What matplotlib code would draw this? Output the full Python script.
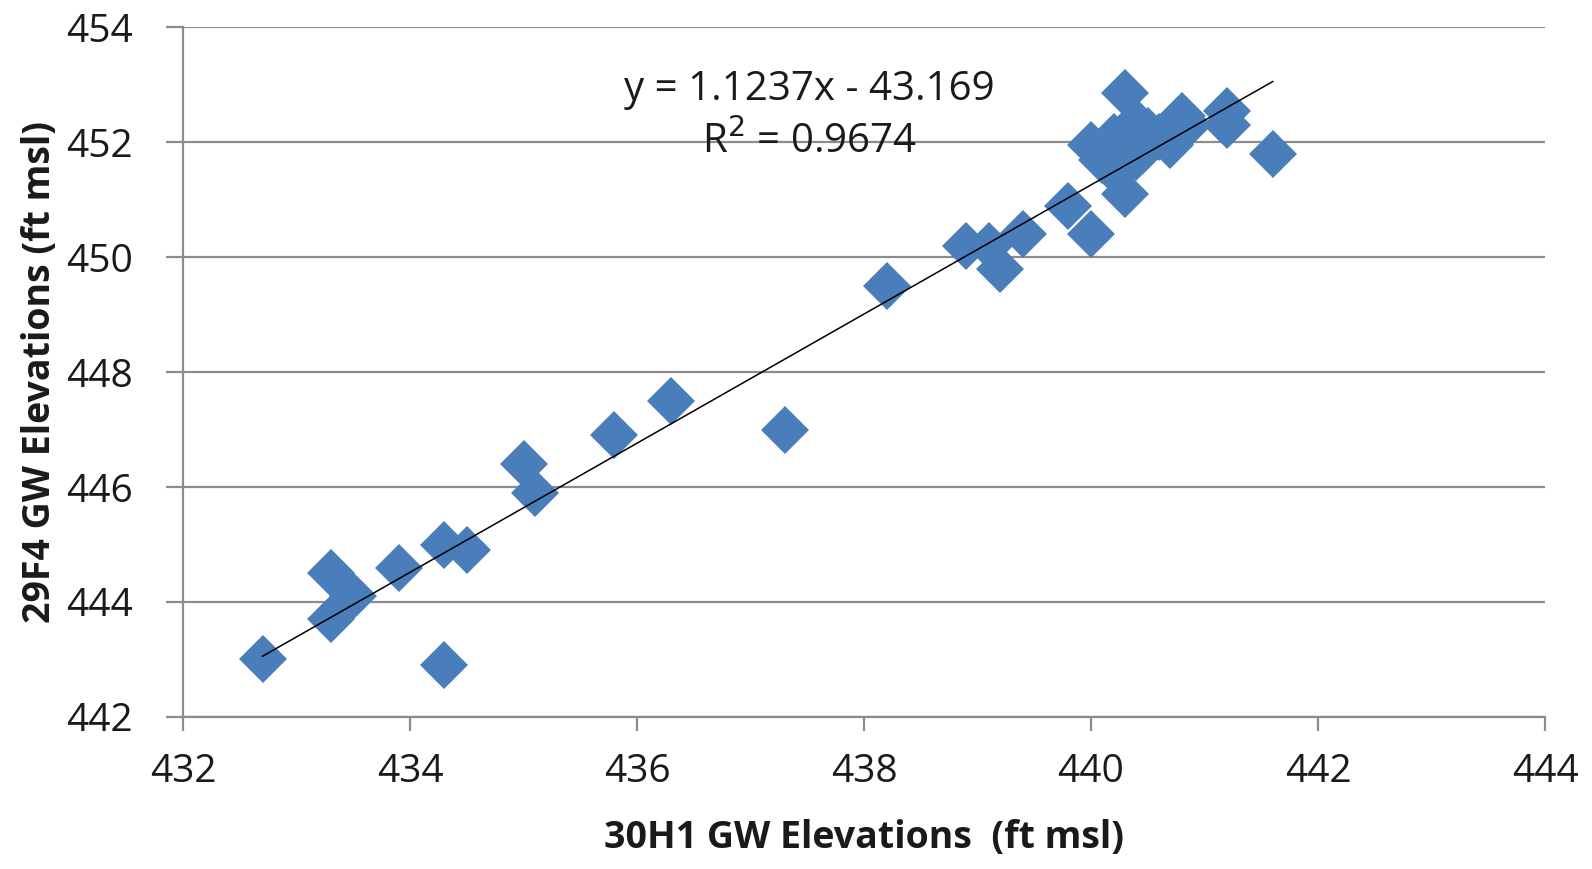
import numpy as np
import matplotlib.pyplot as plt
from matplotlib import font_manager

# 30H1 vs 29F4 groundwater elevations (ft msl)
x_30h1 = [432.7, 433.3, 433.3, 433.5, 433.9, 434.3, 434.5, 434.3, 435.0, 435.1,
          435.8, 436.3, 437.3, 438.2, 438.9, 439.1, 439.2, 439.4, 439.8, 440.0,
          441.6, 441.2, 441.2, 440.3, 440.3,
          440.0, 440.1, 440.1, 440.2, 440.25, 440.3, 440.4, 440.45, 440.5, 440.6,
          440.7, 440.8, 440.85, 440.4, 440.2]
y_29f4 = [443.0, 444.5, 443.7, 444.1, 444.6, 445.0, 444.9, 442.9, 446.4, 445.9,
          446.9, 447.5, 447.0, 449.5, 450.2, 450.2, 449.8, 450.4, 450.9, 450.4,
          451.8, 452.55, 452.3, 452.85, 451.1,
          451.95, 451.8, 451.7, 452.1, 452.0, 451.6, 452.35, 451.85, 452.2, 452.1,
          451.95, 452.45, 452.3, 451.75, 451.5]

# trendline as printed on the chart
slope = 1.1237
intercept = -43.169
r2 = 0.9674

x_ticks = [432, 434, 436, 438, 440, 442, 444]
y_ticks = [442, 444, 446, 448, 450, 452, 454]

names = {f.name for f in font_manager.fontManager.ttflist}
tick_font = 'Open Sans' if 'Open Sans' in names else 'DejaVu Sans'
label_font = tick_font

fig = plt.figure(figsize=(15.92, 8.69), dpi=100)
ax = fig.add_axes([0.115, 0.175, 0.8555, 0.7935])

grid_c = '#8c8c8c'
txt_c = '#1a1a1a'
for yv in y_ticks:
    ax.axhline(yv, color=grid_c, linewidth=1.6, zorder=1)

ax.plot(x_30h1, y_29f4, linestyle='none', marker='D', markersize=24,
        color='#4a7ebb', markeredgewidth=0, zorder=3)

xs = np.array([min(x_30h1), max(x_30h1)])
ax.plot(xs, slope * xs + intercept, color='black', linewidth=1.1, zorder=4)

ax.text(437.52, 452.92, f'y = {slope}x - {-intercept}', fontsize=29,
        family=tick_font, ha='center', va='center', color=txt_c)
ax.text(437.52, 452.0, f'R$^2$ = {r2}', fontsize=29,
        family=tick_font, ha='center', va='center', color=txt_c)

ax.set_xlim(432, 444)
ax.set_ylim(442, 454)
ax.set_xticks(x_ticks)
ax.set_yticks(y_ticks)
ax.set_xticklabels([str(v) for v in x_ticks], fontsize=28, family=tick_font, color=txt_c)
ax.set_yticklabels([str(v) for v in y_ticks], fontsize=28, family=tick_font, color=txt_c)
ax.tick_params(axis='both', direction='out', length=10, width=1.6, color=grid_c)
ax.tick_params(axis='x', pad=16)
ax.tick_params(axis='y', length=12, pad=24)

for side in ['top', 'right']:
    ax.spines[side].set_visible(False)
for side in ['left', 'bottom']:
    ax.spines[side].set_color(grid_c)
    ax.spines[side].set_linewidth(1.6)

ax.set_xlabel('30H1 GW Elevations  (ft msl)', fontsize=27, fontweight='bold',
              family=label_font, color=txt_c, labelpad=20)
ax.set_ylabel('29F4 GW Elevations (ft msl)', fontsize=27, fontweight='bold',
              family=label_font, color=txt_c, labelpad=5)

fig.savefig('out.png', dpi=100)
